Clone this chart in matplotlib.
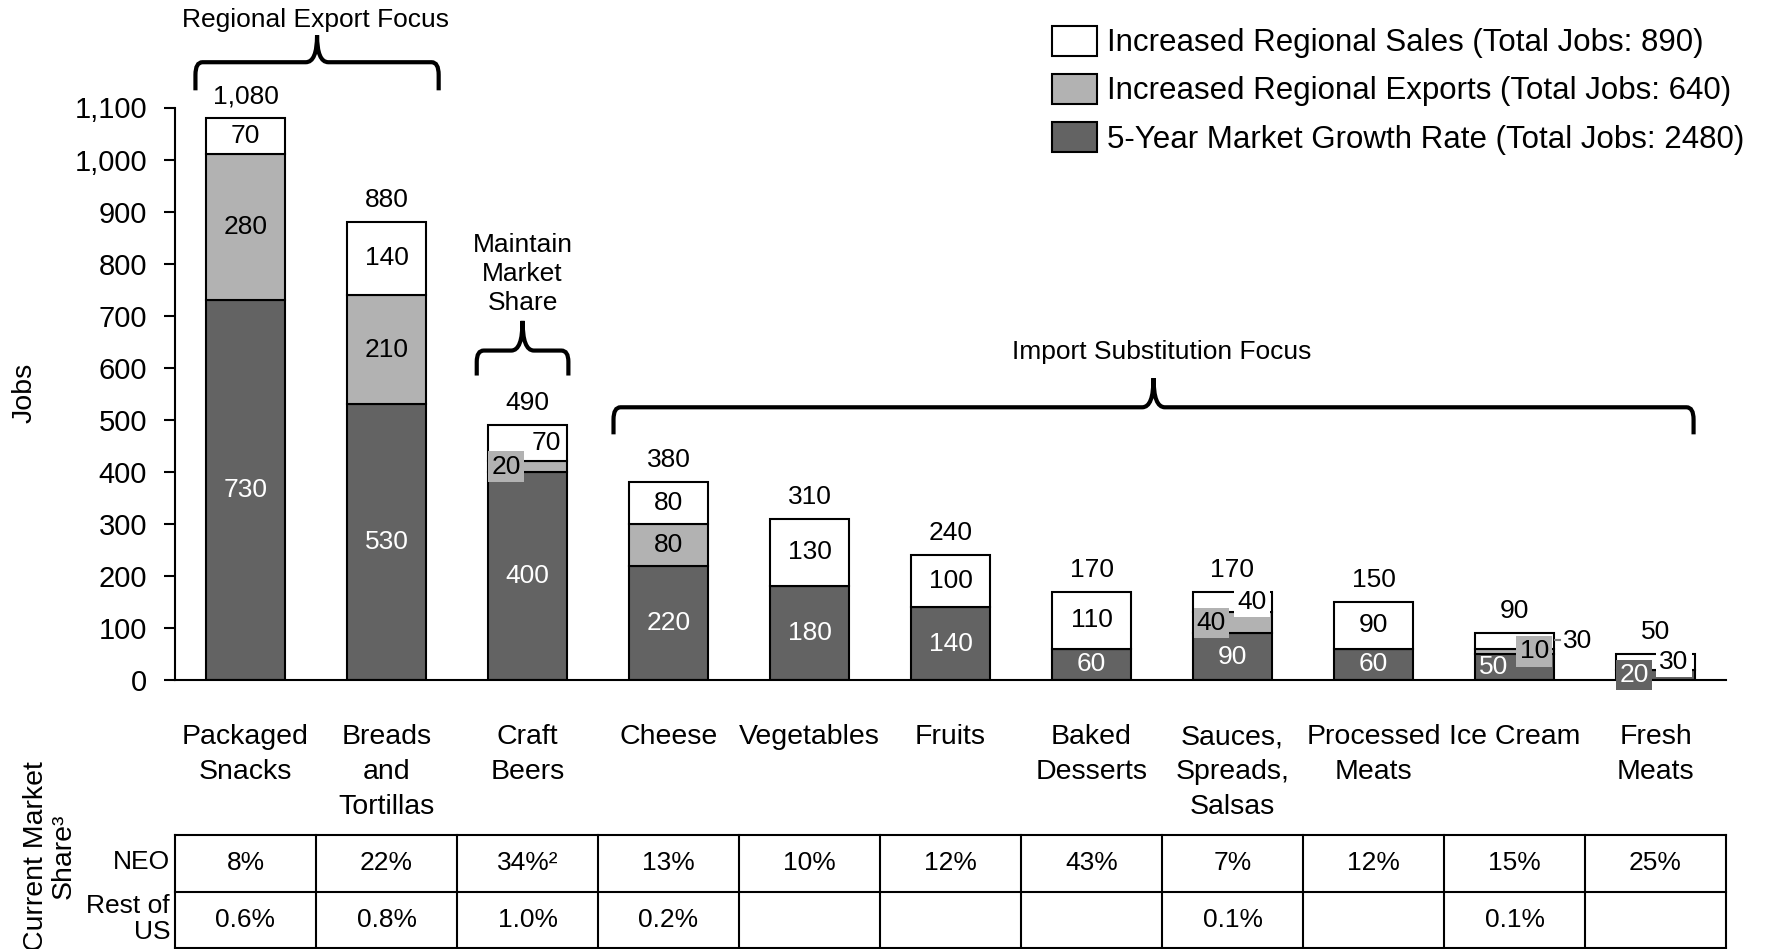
import matplotlib.pyplot as plt
import numpy as np
from matplotlib.path import Path
from matplotlib.patches import PathPatch

plt.rcParams['font.family'] = ['Liberation Sans', 'DejaVu Sans']

categories = ["Packaged\nSnacks", "Breads\nand\nTortillas", "Craft\nBeers", "Cheese", "Vegetables",
              "Fruits", "Baked\nDesserts", "Sauces,\nSpreads,\nSalsas", "Processed\nMeats",
              "Ice Cream", "Fresh\nMeats"]
growth_jobs = [730, 530, 400, 220, 180, 140, 60, 90, 60, 50, 20]
export_jobs = [280, 210, 20, 80, 0, 0, 0, 40, 0, 10, 0]
sales_jobs = [70, 140, 70, 80, 130, 100, 110, 40, 90, 30, 30]
series_labels = ["5-Year Market Growth Rate", "Increased Regional Exports", "Increased Regional Sales"]
share_neo = ["8%", "22%", "34%²", "13%", "10%", "12%", "43%", "7%", "12%", "15%", "25%"]
share_rest_us = ["0.6%", "0.8%", "1.0%", "0.2%", "", "", "", "0.1%", "", "0.1%", ""]

DARK = "#636363"
LIGHT = "#b2b2b2"
BAR_W = 0.56
W, H = 1775, 949


def draw_brace(ax, x0, x1, y_end, y_mid, y_peak):
    xm = (x0 + x1) / 2
    rx, ry = 0.05, (y_mid - y_end) * 0.45
    px = 0.08
    verts = [(x0, y_end), (x0, y_mid - ry), (x0, y_mid), (x0 + rx, y_mid),
             (xm - px, y_mid), (xm, y_mid), (xm, y_peak),
             (xm, y_mid), (xm + px, y_mid),
             (x1 - rx, y_mid), (x1, y_mid), (x1, y_mid - ry), (x1, y_end)]
    codes = [Path.MOVETO, Path.LINETO, Path.CURVE3, Path.CURVE3,
             Path.LINETO, Path.CURVE3, Path.CURVE3,
             Path.CURVE3, Path.CURVE3,
             Path.LINETO, Path.CURVE3, Path.CURVE3, Path.LINETO]
    ax.add_patch(PathPatch(Path(verts, codes), fill=False, lw=3, edgecolor="black",
                           clip_on=False, capstyle="butt"))


fig = plt.figure(figsize=(W / 100, H / 100), dpi=100)
ax = fig.add_axes([175 / W, 1 - 680 / H, (1726 - 175) / W, (680 - 107.5) / H])

x = np.arange(len(categories))
growth = np.array(growth_jobs)
exports = np.array(export_jobs)
sales = np.array(sales_jobs)
totals = growth + exports + sales

b_growth = ax.bar(x, growth, BAR_W, color=DARK, edgecolor="black", lw=1.5, label=series_labels[0])
b_export = ax.bar(x, exports, BAR_W, bottom=growth, color=LIGHT, edgecolor="black", lw=1.5,
                  label=series_labels[1])
b_sales = ax.bar(x, sales, BAR_W, bottom=growth + exports, color="white", edgecolor="black", lw=1.5,
                 label=series_labels[2])

ax.set_xlim(-0.5, 10.5)
ax.set_ylim(0, 1100)
ax.set_yticks(np.arange(0, 1101, 100))
ax.set_yticklabels([f"{v:,}" for v in range(0, 1101, 100)])
ax.tick_params(axis="y", labelsize=21, length=8, width=1.5, pad=12)
ax.set_xticks(x)
ax.set_xticklabels(categories, fontsize=20.5, linespacing=1.43, va="top")
ax.tick_params(axis="x", length=0, pad=32)
for side in ("top", "right"):
    ax.spines[side].set_visible(False)
ax.spines["left"].set_linewidth(1.5)
ax.spines["bottom"].set_linewidth(1.5)
fig.text(25 / W, 1 - 393 / H, "Jobs", rotation=90, ha="center", va="center", fontsize=20.5)

# segment labels; small segments get nudged sideways with a boxed label
nudge = {
    (2, 1): (-0.15, LIGHT), (2, 2): (0.13, None),
    (7, 1): (-0.15, LIGHT), (7, 2): (0.14, "white"),
    (9, 0): (-0.15, None), (9, 1): (0.14, LIGHT), (9, 2): (0.45, None),
    (10, 0): (-0.15, DARK), (10, 2): (0.13, "white"),
}
for i in range(len(categories)):
    bottoms = [0, growth[i], growth[i] + exports[i]]
    for s, vals in enumerate((growth, exports, sales)):
        v = vals[i]
        if v == 0:
            continue
        dx, box = nudge.get((i, s), (0, None))
        color = "white" if s == 0 else "black"
        kw = {}
        if box is not None:
            kw["bbox"] = dict(boxstyle="square,pad=0.12", fc=box, ec="none")
        ax.text(i + dx, bottoms[s] + v / 2, f"{v}", ha="center", va="center", fontsize=19,
                color=color, clip_on=False, zorder=5, **kw)
    ax.text(i, totals[i] + 42, f"{totals[i]:,}", ha="center", va="center", fontsize=19)

# leader from the ice cream bar to its outside label
ax.plot([9 + BAR_W / 2 + 0.005, 9 + BAR_W / 2 + 0.04], [77, 77], color="gray", lw=1.5)

# focus brackets
draw_brace(ax, -0.355, 1.37, 1133, 1187, 1239)
ax.text(0.5, 1268, "Regional Export Focus", ha="center", va="center", fontsize=19)
draw_brace(ax, 1.64, 2.29, 585, 633, 690)
ax.text(1.965, 780, "Maintain\nMarket\nShare", ha="center", va="center", fontsize=19, linespacing=1.25)
draw_brace(ax, 2.61, 10.27, 472, 524, 580)
ax.text(6.5, 630, "Import Substitution Focus", ha="center", va="center", fontsize=19)

handles = [b_sales, b_export, b_growth]
labels = [f"{series_labels[2]} (Total Jobs: {sales.sum()})",
          f"{series_labels[1]} (Total Jobs: {exports.sum()})",
          f"{series_labels[0]} (Total Jobs: {growth.sum()})"]
fig.legend(handles, labels, loc="upper left", bbox_to_anchor=(1052 / W, 1 - 26 / H), frameon=False,
           fontsize=22.5, handlelength=1.45, handleheight=1.08, handletextpad=0.3, labelspacing=0.5,
           borderpad=0, borderaxespad=0)

# market share table
tab = fig.add_axes([175 / W, 1 - 948 / H, (1726 - 175) / W, (948 - 835) / H])
tab.set_xlim(-0.5, 10.5)
tab.set_ylim(0, 2)
tab.axis("off")
for yy in (0, 1, 2):
    tab.plot([-0.5, 10.5], [yy, yy], color="black", lw=1.5, clip_on=False)
for xx in np.arange(-0.5, 11, 1):
    tab.plot([xx, xx], [0, 2], color="black", lw=1.5, clip_on=False)
for i in range(len(categories)):
    tab.text(i, 1.5, share_neo[i], ha="center", va="center", fontsize=19)
    tab.text(i, 0.5, share_rest_us[i], ha="center", va="center", fontsize=19)

fig.text(170 / W, 1 - 862 / H, "NEO", ha="right", va="center", fontsize=19)
fig.text(170 / W, 1 - 919 / H, "Rest of\nUS", ha="right", va="center", fontsize=19,
         multialignment="right", linespacing=1.1)
fig.text(50 / W, 1 - 856 / H, "Current Market\nShare³", ha="center", va="center", fontsize=20.5,
         rotation=90, multialignment="center", linespacing=1.1)

fig.savefig("out.png", dpi=100)
